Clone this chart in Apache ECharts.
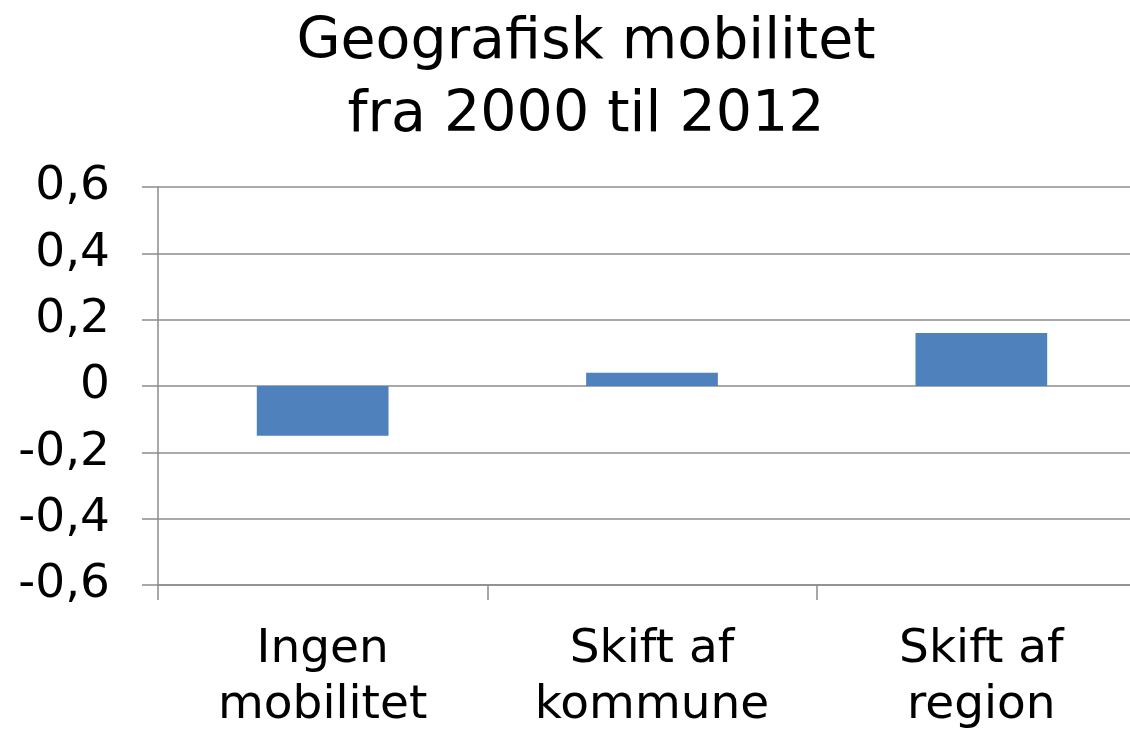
<!DOCTYPE html>
<html>
<head>
<meta charset="utf-8">
<script src="https://cdn.jsdelivr.net/npm/echarts@6/dist/echarts.min.js"></script>
<style>
html,body{margin:0;padding:0;background:#fff;overflow:hidden;width:1130px;height:732px;}
#c{width:1172px;height:732px;}
</style>
</head>
<body>
<div id="c"></div>
<script>
const categories = ['Ingen\nmobilitet', 'Skift af\nkommune', 'Skift af\nregion'];
const values = [-0.15, 0.04, 0.16];
const titleText = 'Geografisk mobilitet\nfra 2000 til 2012';

const font = 'DejaVu Sans';
const axisColor = '#8c8c8c';
const chart = echarts.init(document.getElementById('c'), null, {renderer: 'canvas'});
chart.setOption({
  animation: false,
  title: {
    text: titleText,
    left: 'center',
    top: 2,
    textStyle: {fontFamily: font, fontSize: 57, fontWeight: 'normal', color: '#000', lineHeight: 73}
  },
  grid: {left: 158, right: 26, top: 187, bottom: 147, containLabel: false, outerBoundsMode: 'none'},
  xAxis: {
    type: 'category',
    data: categories,
    axisLine: {show: true, onZero: false, lineStyle: {color: axisColor, width: 1.5}},
    axisTick: {show: true, length: 15, alignWithLabel: false, lineStyle: {color: axisColor, width: 1.5}},
    axisLabel: {fontFamily: font, fontSize: 47, color: '#000', margin: 37, lineHeight: 56, interval: 0}
  },
  yAxis: {
    type: 'value',
    min: -0.6,
    max: 0.6,
    interval: 0.2,
    axisLine: {show: true, lineStyle: {color: axisColor, width: 1.5}},
    axisTick: {show: true, length: 16, lineStyle: {color: axisColor, width: 1.5}},
    splitLine: {show: true, lineStyle: {color: axisColor, width: 1.5}},
    axisLabel: {
      fontFamily: font, fontSize: 47, color: '#000', margin: 48,
      formatter: v => String(Math.round(v * 10) / 10).replace('.', ',')
    }
  },
  series: [{
    type: 'bar',
    data: values,
    barWidth: '40%',
    itemStyle: {color: '#4F81BD'}
  }]
});
</script>
</body>
</html>
